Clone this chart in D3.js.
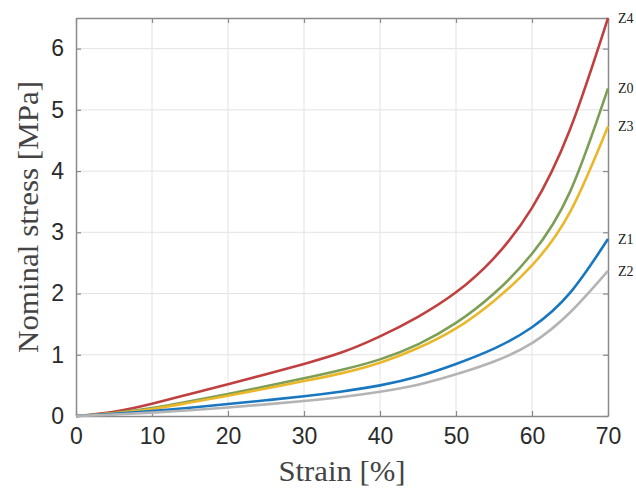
<!DOCTYPE html>
<html lang="en">
<head>
  <meta charset="UTF-8">
  <title>Nominal stress vs strain</title>
  <script src="https://cdn.jsdelivr.net/npm/d3@7"></script>
  <style>
    body { margin: 0; background: #fff; }
  </style>
</head>
<body>
</body>
</html>
<script>
  let w = 636;
  let h = 489;

  // data
  let strain = [0, 5, 10, 15, 20, 25, 30, 35, 40, 45, 50, 55, 60, 65, 70];
  let z0 = [0, 0.05, 0.13, 0.24, 0.36, 0.485, 0.615, 0.755, 0.925, 1.17, 1.52, 2.00, 2.65, 3.66, 5.35];
  let z1 = [0, 0.035, 0.08, 0.135, 0.195, 0.257, 0.322, 0.40, 0.50, 0.645, 0.85, 1.10, 1.45, 2.01, 2.89];
  let z2 = [0, 0.025, 0.055, 0.095, 0.14, 0.19, 0.245, 0.31, 0.395, 0.51, 0.68, 0.89, 1.19, 1.69, 2.37];
  let z3 = [0, 0.045, 0.115, 0.22, 0.33, 0.45, 0.57, 0.70, 0.87, 1.11, 1.43, 1.88, 2.46, 3.33, 4.73];
  let z4 = [0, 0.07, 0.20, 0.36, 0.52, 0.68, 0.85, 1.04, 1.30, 1.62, 2.02, 2.58, 3.40, 4.68, 6.5];
  let seriesNames = ["Z4", "Z0", "Z3", "Z1", "Z2"];
  let seriesValues = [z4, z0, z3, z1, z2];
  let colors = ["#c0403f", "#7d9e55", "#ebb72a", "#1877c0", "#b4b4b4"];
  let xTicks = [0, 10, 20, 30, 40, 50, 60, 70];
  let yTicks = [0, 1, 2, 3, 4, 5, 6];

  let mLeft = 76, mRight = 608, mTop = 18, mBottom = 416;

  let svg = d3.select("body").append("svg").attr("width", w).attr("height", h)
    .style("background", "#fff");

  let x = d3.scaleLinear().domain([0, 70]).range([mLeft, mRight]);
  let y = d3.scaleLinear().domain([0, 6.5]).range([mBottom, mTop]);

  // grid
  svg.append("g").selectAll("line").data(xTicks.slice(1, -1)).enter().append("line")
    .attr("x1", d => x(d)).attr("x2", d => x(d)).attr("y1", mTop).attr("y2", mBottom)
    .attr("stroke", "#e3e3e3").attr("stroke-width", 1);
  svg.append("g").selectAll("line").data(yTicks.slice(1)).enter().append("line")
    .attr("y1", d => y(d)).attr("y2", d => y(d)).attr("x1", mLeft).attr("x2", mRight)
    .attr("stroke", "#e3e3e3").attr("stroke-width", 1);

  // axes (inward ticks on all four sides)
  let axisStyle = function (g) {
    g.select(".domain").attr("stroke", "#8a8a8a").attr("stroke-width", 1.5);
    g.selectAll(".tick line").attr("stroke", "#8a8a8a").attr("stroke-width", 1.2);
    g.selectAll("text").attr("fill", "#2b2b2b")
      .style("font-family", "'Liberation Sans', Arial, sans-serif").style("font-size", "23px");
  };
  svg.append("g").attr("transform", "translate(0," + mBottom + ")")
    .call(d3.axisBottom(x).tickValues(xTicks).tickFormat(d3.format("d")).tickSize(-5).tickSizeOuter(0).tickPadding(12))
    .call(axisStyle);
  svg.append("g").attr("transform", "translate(0," + mTop + ")")
    .call(d3.axisTop(x).tickValues(xTicks).tickSize(-5).tickSizeOuter(0).tickFormat(""))
    .call(axisStyle);
  svg.append("g").attr("transform", "translate(" + mLeft + ",0)")
    .call(d3.axisLeft(y).tickValues(yTicks).tickFormat(d3.format("d")).tickSize(-5).tickSizeOuter(0).tickPadding(12))
    .call(axisStyle);
  svg.append("g").attr("transform", "translate(" + mRight + ",0)")
    .call(d3.axisRight(y).tickValues(yTicks).tickSize(-5).tickSizeOuter(0).tickFormat(""))
    .call(axisStyle);

  // curves
  let line = d3.line().x((d, i) => x(strain[i])).y(d => y(d)).curve(d3.curveNatural);
  svg.append("g").selectAll("path").data(seriesValues).enter().append("path")
    .attr("d", d => line(d))
    .attr("fill", "none")
    .attr("stroke", (d, i) => colors[i])
    .attr("stroke-width", 2.6);

  // end labels
  svg.append("g").selectAll("text").data(seriesValues).enter().append("text")
    .text((d, i) => seriesNames[i])
    .attr("x", mRight + 10)
    .attr("y", d => y(d[d.length - 1]))
    .attr("dy", "0.35em")
    .style("font-family", "'Liberation Serif', 'Times New Roman', serif")
    .style("font-size", "14px")
    .attr("fill", "#222");

  // axis titles
  svg.append("text").text("Strain [%]")
    .attr("x", (mLeft + mRight) / 2).attr("y", 481)
    .attr("text-anchor", "middle")
    .attr("textLength", 127).attr("lengthAdjust", "spacingAndGlyphs")
    .style("font-family", "'Liberation Serif', 'Times New Roman', serif")
    .style("font-size", "30px").attr("fill", "#444");
  svg.append("text").text("Nominal stress [MPa]")
    .attr("transform", "translate(38," + 217 + ") rotate(-90)")
    .attr("text-anchor", "middle")
    .attr("textLength", 272).attr("lengthAdjust", "spacingAndGlyphs")
    .style("font-family", "'Liberation Serif', 'Times New Roman', serif")
    .style("font-size", "30px").attr("fill", "#444");
</script>
